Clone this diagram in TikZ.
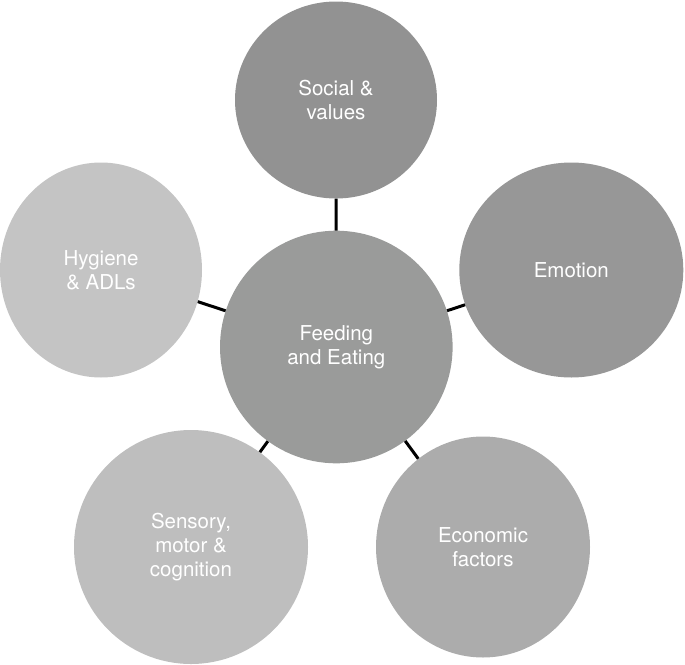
\documentclass[tikz,border=0pt]{standalone}
\usepackage{fontspec}
\setmainfont{TeX Gyre Heros}
\usetikzlibrary{shapes.geometric}
\definecolor{cSocial}{HTML}{929292}
\definecolor{cEmotion}{HTML}{979797}
\definecolor{cFeed}{HTML}{9A9B9A}
\definecolor{cEcon}{HTML}{ACACAC}
\definecolor{cHyg}{HTML}{C4C4C4}
\definecolor{cSens}{HTML}{BEBEBE}
\tikzset{
  bubble/.style={ellipse, draw=none, inner sep=0pt, text=white, align=center,
    font=\fontsize{20.5}{24.4}\selectfont},
  link/.style={line width=3pt, black}
}
\begin{document}
\begin{tikzpicture}[x=1pt,y=-1pt]
\useasboundingbox (0,0) rectangle (685,664);
\node[bubble, fill=cFeed, minimum width=232.6pt, minimum height=232.6pt] (feed) at (336.3,347) {Feeding\\and Eating};
\node[bubble, fill=cSocial, minimum width=202pt, minimum height=197pt] (social) at (336,100) {Social \&\\values};
\node[bubble, fill=cEmotion, minimum width=224pt, minimum height=215pt] (emotion) at (571.3,270) {Emotion};
\node[bubble, fill=cHyg, minimum width=202pt, minimum height=215pt] (hygiene) at (101,270) {Hygiene\\\& ADLs};
\node[bubble, fill=cSens, minimum width=234pt, minimum height=234pt] (sensory) at (191,547) {Sensory,\\motor \&\\cognition};
\node[bubble, fill=cEcon, minimum width=214pt, minimum height=221pt] (econ) at (483,547) {Economic\\factors};
\draw[link] (feed) -- (social);
\draw[link] (feed) -- (emotion);
\draw[link] (feed) -- (hygiene);
\draw[link] (feed) -- (sensory);
\draw[link] (feed) -- (econ);
\end{tikzpicture}
\end{document}
